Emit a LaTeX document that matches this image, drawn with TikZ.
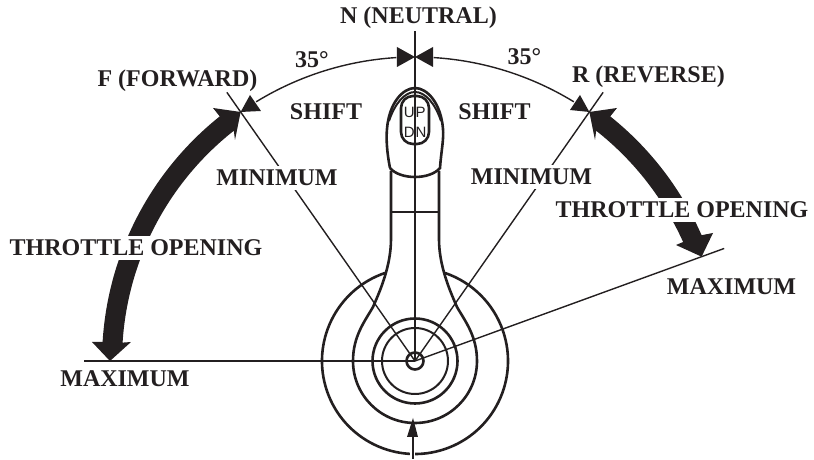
\documentclass[tikz,border=0pt]{standalone}
\usepackage{fontspec}
\setmainfont{Liberation Serif}
\setsansfont{Liberation Sans}
\definecolor{ink}{HTML}{231F20}
\tikzset{
  lbl/.style={font=\fontsize{24}{24}\selectfont\bfseries,text=ink,inner sep=0pt,anchor=base},
  gap/.style={lbl,fill=white,inner ysep=4pt,inner xsep=2pt},
  thinln/.style={draw=ink,line width=1.4pt},
  midln/.style={draw=ink,line width=2pt},
  thickln/.style={draw=ink,line width=2.6pt},
  keytxt/.style={font=\sffamily\fontsize{15}{15}\selectfont,text=ink,inner sep=0pt}
}
\begin{document}
\begin{tikzpicture}[x=1pt,y=1pt]
\useasboundingbox (-415,-99) rectangle (399,361);
\coordinate (C) at (0,0);
\coordinate (Ntop) at (0,330);
\coordinate (Fend) at (125:328);
\coordinate (Rend) at (55:328);
\coordinate (Lmax) at (-331,0);
\coordinate (Rmax) at (20:329);
% radial lines
\draw[thinln] (C) -- (Ntop);
\draw[thinln] (C) -- (Fend);
\draw[thinln] (C) -- (Rend);
\draw[thinln] (C) -- (Lmax);
\draw[thinln] (C) -- (Rmax);
% hub circles
\draw[thickln] (C) circle[radius=8.5];
\draw[midln] (C) circle[radius=33];
\draw[thickln] (C) circle[radius=42.5];
% outer disc
\draw[thickln] (108.8:93) arc[start angle=108.8,end angle=431.2,radius=93];
% lever
\draw[thickln] (-24,190) -- (-24,122) .. controls (-24,95) and (-35,70) .. (-42,54)
  .. controls (-50,40) and (-62,25) .. (-62,0)
  arc[start angle=180,end angle=360,radius=62]
  .. controls (62,25) and (50,40) .. (42,54)
  .. controls (35,70) and (24,95) .. (24,122) -- (24,190);
\draw[thinln] (-24,149) -- (24,149);
% head
\draw[thickln] (-25,193) .. controls (-28,208) and (-29,222) .. (-28,232)
  .. controls (-26,258) and (-12,273) .. (0,273)
  .. controls (12,273) and (26,258) .. (28,232)
  .. controls (29,222) and (26,208) .. (25,193)
  .. controls (15,181) and (-15,181) .. (-25,193);
\draw[midln] (-26,240) .. controls (-20,258) and (-10,269) .. (0,269)
  .. controls (10,269) and (20,258) .. (26,240);
\draw[thickln,rounded corners=12pt] (-14,217) rectangle (14,265);
\node[keytxt,anchor=east] (up1) at (0,249) {U};
\node[keytxt,anchor=west] (up2) at (0.5,249) {P};
\node[keytxt,anchor=east] (dn1) at (0,229) {D};
\node[keytxt,anchor=west] (dn2) at (0.5,229) {N};
% shift arc and heads
\coordinate (Tl) at (0,304);
\draw[thinln] (93.5:304) arc[start angle=93.5,end angle=121.5,radius=304];
\draw[thinln] (86.5:304) arc[start angle=86.5,end angle=58.5,radius=304];
\fill[ink] (Tl) -- (-18,314) -- (-18,294) -- cycle;
\fill[ink] (Tl) -- (18,314) -- (18,294) -- cycle;
\fill[ink] (125:304) -- (-165,266) -- (-154,250) -- cycle;
\fill[ink] (55:304) -- (165,266) -- (155,251) -- cycle;
% throttle bands
\fill[ink] (-202,253) -- (125:304) -- (-180,221) -- (128.2:293)
  arc[start angle=128.2,end angle=176.4,radius=293]
  -- (-284,19) -- (-305,0) -- (-323,19) -- (176.5:313)
  arc[start angle=176.5,end angle=128.6,radius=313] -- cycle;
\fill[ink] (202,253) -- (55:304) -- (180,221) -- (51.8:293)
  arc[start angle=51.8,end angle=24.2,radius=296]
  -- (261,116) -- (20:305) -- (298,128) -- (23.7:313)
  arc[start angle=23.7,end angle=51.4,radius=313] -- cycle;
% bottom arrow
\coordinate (Abot) at (-2,-98);
\coordinate (Atip) at (-2,-57);
\draw[white,line width=5pt] (Abot) -- (-2,-76);
\draw[draw=ink,line width=2.6pt] (Abot) -- (-2,-74);
\fill[ink] (Atip) -- (-8,-76) -- (3,-76) -- cycle;
% labels
\node[lbl] (n) at (3.5,337) {N (NEUTRAL)};
\node[lbl] (a1) at (-103,293) {35°};
\node[lbl] (a2) at (109.5,296) {35°};
\node[lbl] (f) at (-237.5,274) {F (FORWARD)};
\node[lbl] (r) at (233.5,278) {R (REVERSE)};
\node[lbl] (s1) at (-89,241) {SHIFT};
\node[lbl] (s2) at (79.5,241) {SHIFT};
\node[gap] (m1) at (-138,175) {MINIMUM};
\node[gap] (m2) at (116.5,176) {MINIMUM};
\node[gap] (t1) at (-279,105) {THROTTLE OPENING};
\node[gap] (t2) at (267,143) {THROTTLE OPENING};
\node[lbl] (x1) at (-290,-26) {MAXIMUM};
\node[lbl] (x2) at (316.5,66) {MAXIMUM};
\end{tikzpicture}
\end{document}
